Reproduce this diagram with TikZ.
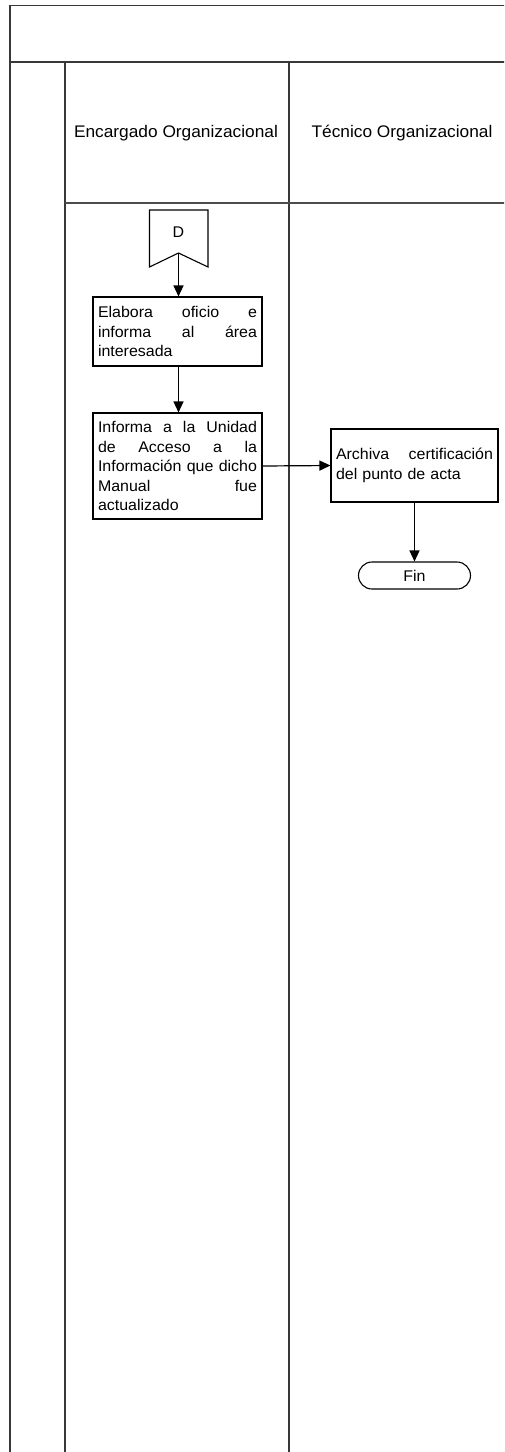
\documentclass[tikz,border=0pt]{standalone}
\usepackage{fontspec}
\setmainfont{Liberation Sans}[FakeStretch=1.03]
\usetikzlibrary{arrows.meta}
% a justified line of fixed width inside a box
\newcommand{\jl}[2]{\leavevmode\hbox to #1{#2}}
\begin{document}
\begin{tikzpicture}[x=1pt,y=-1pt,
  frame/.style={draw=black!78,line width=1.5pt},
  lanehead/.style={font=\fontsize{16.8}{19}\selectfont,inner sep=0pt},
  procbox/.style={draw=black,line width=1.1pt,fill=white,inner sep=5pt,align=left,
    font=\fontsize{15.5}{19.5}\selectfont},
  terminal/.style={draw=black,line width=1.1pt,rounded corners=13.5pt,minimum width=112pt,
    minimum height=27pt,inner sep=0pt,font=\fontsize{15.5}{17}\selectfont},
  flow/.style={line width=1.2pt,-{Triangle[length=11pt,width=10pt]}}]
\useasboundingbox (0,0) rectangle (504,1452);
\clip (0,0) rectangle (504,1452);
\fill[white] (0,0) rectangle (504,1452);

% pool and lanes
\draw[frame] (10,1470) -- (10,5.5) -- (530,5.5);
\draw[frame,line width=1.9pt] (10,62) -- (530,62);
\draw[frame] (65,62) -- (65,1470);
\draw[frame] (289,62) -- (289,1470);
\draw[draw=black!70,line width=1.1pt] (65,203) -- (530,203);

\node[lanehead] (laneA) at (176,133) {Encargado Organizacional};
\node[lanehead] (laneB) at (402,133) {Técnico Organizacional};

% off-page connector D
\coordinate (dtip) at (178.5,253);
\draw[line width=1.1pt,fill=white] (149.5,210) -- (208,210) -- (208,267) -- (dtip) -- (149.5,267) -- cycle;
\node[font=\fontsize{15.5}{17}\selectfont,inner sep=0pt] (dlabel) at (178.5,232) {D};

% activities
\node[procbox,text width=159pt,minimum height=69pt] (elabora) at (177.5,331.5)
  {\jl{159pt}{Elabora\hfill oficio\hfill e}\\\jl{159pt}{informa\hfill al\hfill área}\\interesada};
\node[procbox,text width=159pt,minimum height=106pt] (informa) at (177.5,466)
  {\jl{159pt}{Informa\hfill a\hfill la\hfill Unidad}\\\jl{159pt}{de\hfill Acceso\hfill a\hfill la}\\\jl{159pt}{Información\hfill que\hfill dicho}\\\jl{159pt}{Manual\hfill fue}\\actualizado};
\node[procbox,text width=157pt,minimum height=73pt] (archiva) at (414.5,465.5)
  {\jl{157pt}{Archiva\hfill certificación}\\del punto de acta};
\node[terminal] (fin) at (414.5,575.5) {Fin};

% connectors
\draw[flow] (dtip) -- (dtip |- elabora.north);
\draw[flow] (elabora.south -| dtip) -- (informa.north -| dtip);
\draw[flow] (informa.east) -- (archiva.west);
\draw[flow] (archiva.south) -- (fin.north);
\end{tikzpicture}
\end{document}
